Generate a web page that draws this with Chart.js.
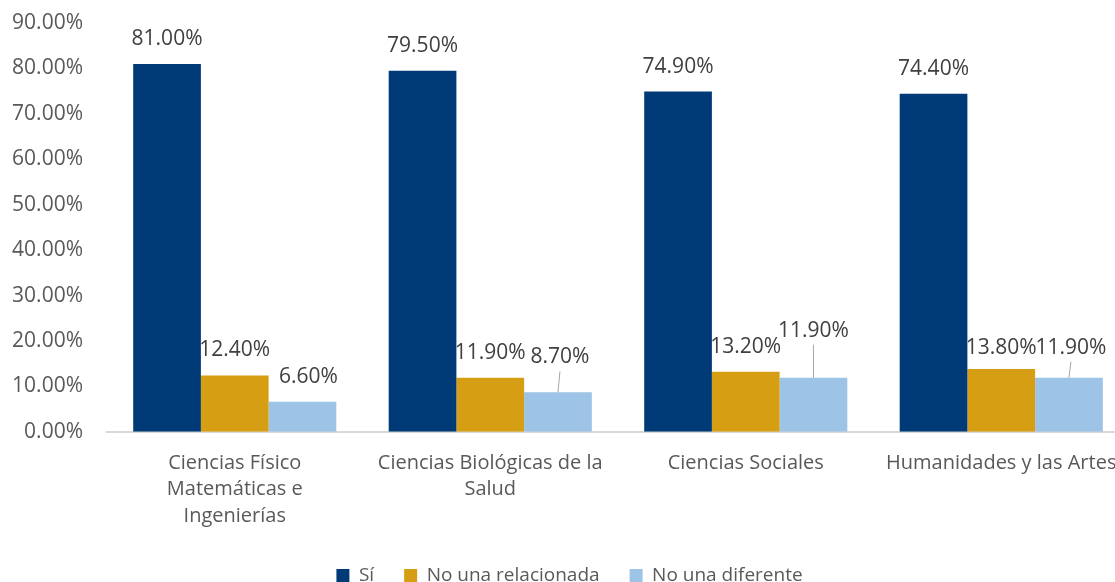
<!DOCTYPE html>
<html>
<head>
<meta charset="utf-8">
<script src="https://cdn.jsdelivr.net/npm/chart.js@4"></script>
<style>
	html, body { margin: 0; padding: 0; background: #fff; overflow: hidden; }
	#wrap { width: 1115px; height: 582px; overflow: hidden; }
</style>
</head>
<body>
<div id="wrap"><canvas id="myChart" width="1160" height="595"></canvas></div>
<script>
const categories = [
	["Ciencias Físico", "Matemáticas e", "Ingenierías"],
	["Ciencias Biológicas de la", "Salud"],
	"Ciencias Sociales",
	"Humanidades y las Artes",
];
const seriesNames = ["Sí", "No una relacionada", "No una diferente"];
const si = [81.0, 79.5, 74.9, 74.4];
const relacionada = [12.4, 11.9, 13.2, 13.8];
const diferente = [6.6, 8.7, 11.9, 11.9];
const yTicks = [0, 10, 20, 30, 40, 50, 60, 70, 80, 90];

const FONT = "'Open Sans', sans-serif";

// label nudges [dx, dy] per dataset/category, and whether a leader line is drawn
const labelNudge = [
	[[0, 0], [0, 0], [0, 0], [0, 0]],
	[[0, 0], [0, 0], [0, 0], [0, 4]],
	[[6, 0], [2, -10], [0, -22], [2, -5]],
];
const leader = [
	[false, false, false, false],
	[false, false, false, false],
	[false, true, true, true],
];

const dataLabels = {
	id: "dataLabels",
	afterDatasetsDraw(chart) {
		const { ctx } = chart;
		ctx.save();
		ctx.font = "21px " + FONT;
		ctx.textAlign = "center";
		ctx.textBaseline = "middle";
		chart.data.datasets.forEach((ds, d) => {
			chart.getDatasetMeta(d).data.forEach((bar, i) => {
				const [dx, dy] = labelNudge[d][i];
				const x = bar.x + dx;
				const y = bar.y - 25 + dy;
				if (leader[d][i]) {
					ctx.strokeStyle = "#a6a6a6";
					ctx.lineWidth = 1;
					ctx.beginPath();
					ctx.moveTo(x, y + 14);
					ctx.lineTo(bar.x, bar.y);
					ctx.stroke();
				}
				ctx.fillStyle = "#404040";
				ctx.fillText(ds.data[i].toFixed(2) + "%", x, y);
			});
		});
		ctx.restore();
	},
};

const data = {
	labels: categories,
	datasets: [
		{ label: seriesNames[0], data: si, backgroundColor: "#003b77" },
		{ label: seriesNames[1], data: relacionada, backgroundColor: "#d69e12" },
		{ label: seriesNames[2], data: diferente, backgroundColor: "#9dc3e6" },
	],
};

const config = {
	type: "bar",
	data: data,
	options: {
		responsive: false,
		animation: false,
		layout: { padding: { left: 10, top: 23, right: 31, bottom: 0 } },
		datasets: { bar: { categoryPercentage: 0.795, barPercentage: 1 } },
		scales: {
			x: {
				grid: { display: false, drawTicks: false },
				border: { color: "#d9d9d9", width: 2 },
				afterFit(scale) {
					scale.height -= 11;
				},
				ticks: {
					color: "#595959",
					font: { family: FONT, size: 20, lineHeight: 1.32 },
					maxRotation: 0,
					autoSkip: false,
					padding: 18,
				},
			},
			y: {
				min: 0,
				max: 90,
				afterBuildTicks(scale) {
					scale.ticks = yTicks.map((v) => ({ value: v }));
				},
				afterFit(scale) {
					scale.width = 97;
					scale.paddingTop = 0;
					scale.paddingBottom = 0;
				},
				grid: { display: false, drawTicks: false },
				border: { display: false },
				ticks: {
					color: "#595959",
					font: { family: FONT, size: 21 },
					padding: 24,
					callback: (v) => v.toFixed(2) + "%",
				},
			},
		},
		plugins: {
			legend: {
				position: "bottom",
				labels: {
					color: "#595959",
					font: { family: FONT, size: 19 },
					boxWidth: 13,
					boxHeight: 13,
					padding: 30,
				},
			},
			tooltip: { enabled: false },
		},
	},
	plugins: [dataLabels],
};

new Chart(document.getElementById("myChart"), config);
</script>
</body>
</html>
